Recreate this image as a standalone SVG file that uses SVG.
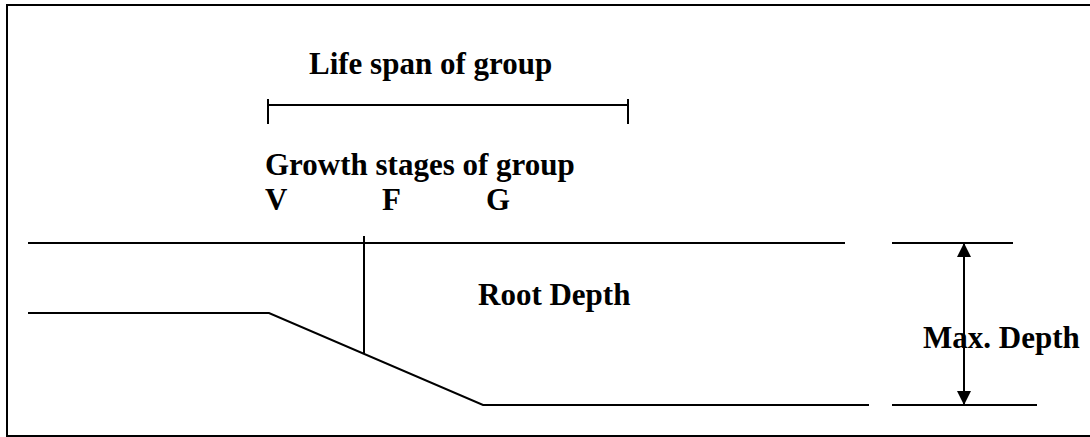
<svg xmlns="http://www.w3.org/2000/svg" width="1090" height="437" viewBox="0 0 1090 437">
<defs>
<style>
.ln{stroke:#000;stroke-width:2;fill:none}
.t{font-family:"Liberation Serif","Times New Roman",serif;font-weight:bold;font-size:31px;fill:#000}
</style>
<marker id="ah" viewBox="0 0 10 10" refX="10" refY="5" markerWidth="15" markerHeight="14" orient="auto-start-reverse" markerUnits="userSpaceOnUse">
<path d="M0,0 L10,5 L0,10 Z" fill="#000"/>
</marker>
</defs>
<rect width="1090" height="437" fill="#fff"/>
<rect x="7" y="5" width="1090" height="431" fill="none" stroke="#000" stroke-width="2"/>
<g id="lifespan">
<text class="t" x="309" y="74">Life span of group</text>
<line class="ln" x1="268" y1="105" x2="628" y2="105"/>
<line class="ln" x1="268" y1="99" x2="268" y2="124"/>
<line class="ln" x1="628" y1="99" x2="628" y2="124"/>
</g>
<g id="stages">
<text class="t" x="265" y="175">Growth stages of group</text>
<text class="t" x="265" y="210">V</text>
<text class="t" x="382" y="210">F</text>
<text class="t" x="486" y="210">G</text>
</g>
<g id="rootdepth">
<text class="t" x="478" y="305">Root Depth</text>
</g>
<g id="maxdepth">
<text class="t" x="923" y="348">Max. Depth</text>
</g>
<g id="connectors">
<line class="ln" x1="28" y1="243" x2="845" y2="243"/>
<line class="ln" x1="892" y1="243" x2="1013" y2="243"/>
<line class="ln" x1="364" y1="236" x2="364" y2="353"/>
<polyline class="ln" points="28,313 269,313 483,405 869,405"/>
<line class="ln" x1="892" y1="405" x2="1037" y2="405"/>
<line class="ln" x1="964" y1="243" x2="964" y2="405" marker-start="url(#ah)" marker-end="url(#ah)"/>
</g>
</svg>
